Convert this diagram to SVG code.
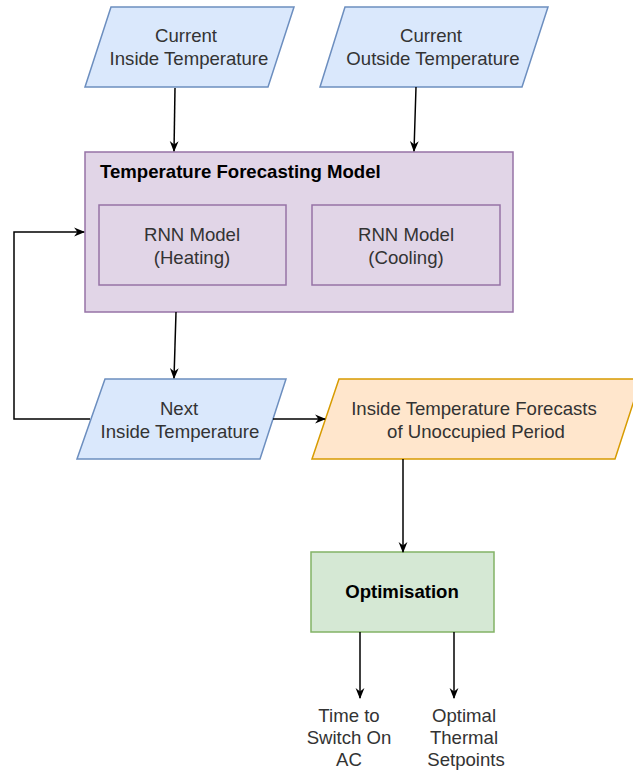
<svg xmlns="http://www.w3.org/2000/svg" width="633" height="771" viewBox="0 0 633 771">
<style>
text{font-family:"Liberation Sans",Arial,sans-serif;font-size:18.6px;fill:#333333;text-anchor:middle}
.b{font-weight:bold;fill:#000000}
.blue{fill:#dae8fc;stroke:#6c8ebf;stroke-width:1.5}
.purple{fill:#e1d5e7;stroke:#9673a6;stroke-width:1.5}
.orange{fill:#ffe6cc;stroke:#d79b00;stroke-width:1.5}
.green{fill:#d5e8d4;stroke:#82b366;stroke-width:1.5}
.edge{fill:none;stroke:#000000;stroke-width:1.5}
</style>
<defs>
<marker id="arr" viewBox="0 0 10 10" refX="9" refY="5" markerWidth="11" markerHeight="11" markerUnits="userSpaceOnUse" orient="auto">
<path d="M0,1 L10,5 L0,9 L3,5 Z" fill="#000000"/>
</marker>
</defs>
<rect width="633" height="771" fill="#ffffff"/>
<g id="current-inside">
<polygon class="blue" points="111,7 294,7 268,87 85,87"/>
<text x="186" y="42">Current</text>
<text x="189" y="65">Inside Temperature</text>
</g>
<g id="current-outside">
<polygon class="blue" points="345,7 548,7 522,87 320,87"/>
<text x="431" y="42">Current</text>
<text x="433" y="65">Outside Temperature</text>
</g>
<g id="forecasting-model">
<rect class="purple" x="85" y="152" width="428" height="160"/>
<text class="b" x="100" y="178" style="text-anchor:start">Temperature Forecasting Model</text>
</g>
<g id="rnn-heating">
<rect class="purple" x="99" y="205" width="187" height="80"/>
<text x="192" y="241">RNN Model</text>
<text x="192" y="264">(Heating)</text>
</g>
<g id="rnn-cooling">
<rect class="purple" x="312" y="205" width="188" height="80"/>
<text x="406" y="241">RNN Model</text>
<text x="406" y="264">(Cooling)</text>
</g>
<g id="next-inside">
<polygon class="blue" points="105,379 286,379 260,459 77,459"/>
<text x="179" y="415">Next</text>
<text x="180" y="438">Inside Temperature</text>
</g>
<g id="forecasts">
<polygon class="orange" points="339,379 641,379 615,459 312,459"/>
<text x="474" y="415">Inside Temperature Forecasts</text>
<text x="476" y="438">of Unoccupied Period</text>
</g>
<g id="optimisation">
<rect class="green" x="311" y="552" width="183" height="80"/>
<text class="b" x="402" y="598">Optimisation</text>
</g>
<g id="time-to-switch">
<text x="349" y="722">Time to</text>
<text x="349" y="744">Switch On</text>
<text x="349" y="766">AC</text>
</g>
<g id="optimal-setpoints">
<text x="464" y="722">Optimal</text>
<text x="464" y="744">Thermal</text>
<text x="466" y="766">Setpoints</text>
</g>
<g id="connectors">
<path class="edge" d="M175,88 L174,151" marker-end="url(#arr)"/>
<path class="edge" d="M416,87 L414,151" marker-end="url(#arr)"/>
<path class="edge" d="M176,312 L174,378" marker-end="url(#arr)"/>
<path class="edge" d="M90,419 L14,419 L14,232 L84,232" marker-end="url(#arr)"/>
<path class="edge" d="M273,419 L325,419" marker-end="url(#arr)"/>
<path class="edge" d="M403,459 L403,552" marker-end="url(#arr)"/>
<path class="edge" d="M360,632 L360,698" marker-end="url(#arr)"/>
<path class="edge" d="M454,632 L454,698" marker-end="url(#arr)"/>
</g>
</svg>
